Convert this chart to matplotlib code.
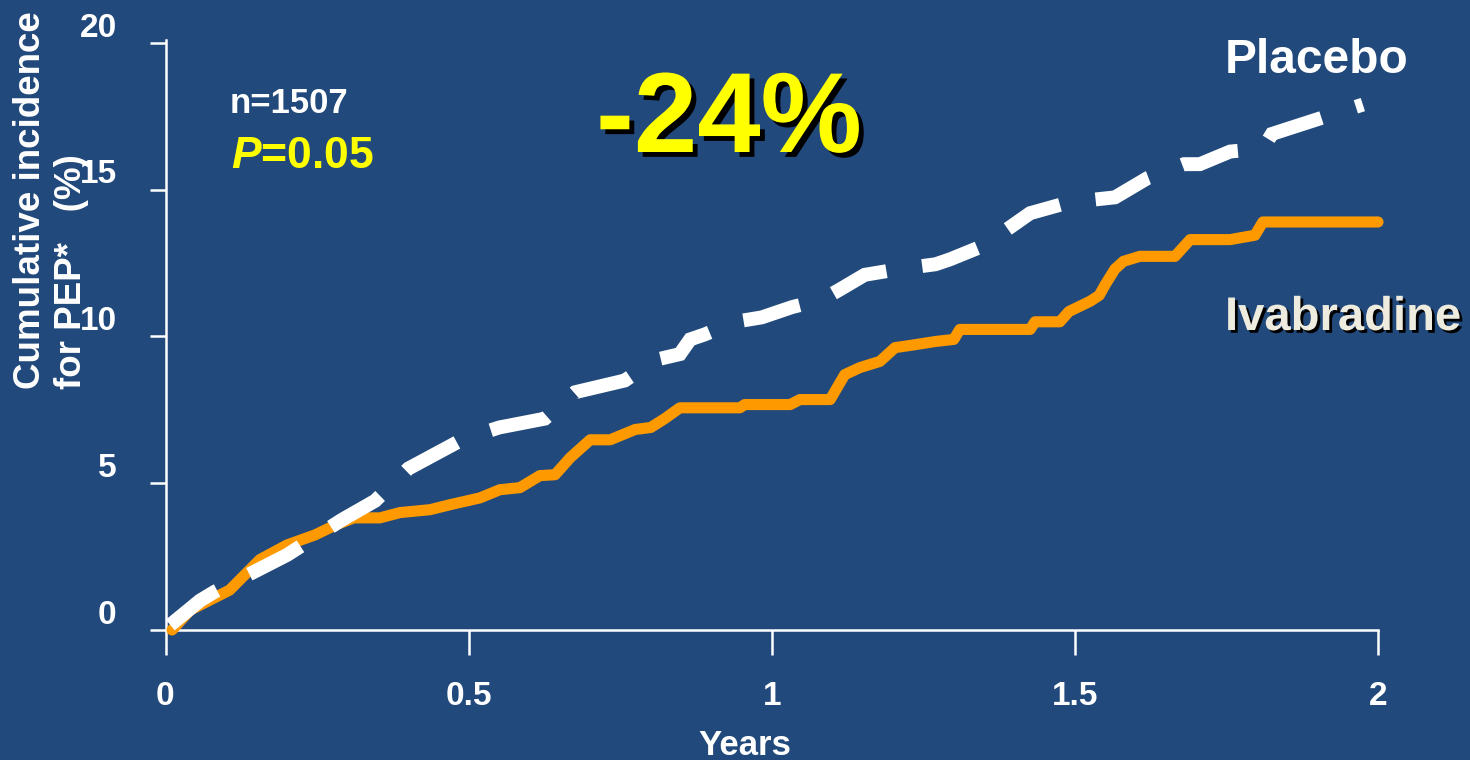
import matplotlib
matplotlib.use("Agg")
import matplotlib.pyplot as plt
from matplotlib import patheffects

plt.rcParams["font.family"] = ["Liberation Sans", "DejaVu Sans"]
plt.rcParams["font.weight"] = "bold"
plt.rcParams["mathtext.fontset"] = "custom"
plt.rcParams["mathtext.it"] = "Liberation Sans:italic:bold"
plt.rcParams["mathtext.rm"] = "Liberation Sans:bold"

# Kaplan-Meier style cumulative incidence (%) over follow-up (years)
ivab_years = [0.01, 0.04, 0.105, 0.155, 0.20, 0.246, 0.28, 0.31, 0.353, 0.386,
              0.436, 0.469, 0.518, 0.551, 0.584, 0.617, 0.642, 0.667, 0.70,
              0.733, 0.774, 0.80, 0.823, 0.848, 0.947, 0.955, 1.03, 1.046,
              1.096, 1.12, 1.145, 1.178, 1.203, 1.23, 1.27, 1.30, 1.31, 1.426,
              1.434, 1.475, 1.49, 1.525, 1.54, 1.55, 1.566, 1.58, 1.607, 1.665,
              1.69, 1.756, 1.797, 1.81, 2.0]
ivab_inc = [0.0, 0.68, 1.36, 2.4, 2.9, 3.24, 3.58, 3.82, 3.82, 4.0,
            4.1, 4.27, 4.5, 4.78, 4.85, 5.26, 5.29, 5.87, 6.48,
            6.48, 6.83, 6.9, 7.2, 7.57, 7.57, 7.68, 7.68, 7.85,
            7.85, 8.7, 8.94, 9.15, 9.62, 9.7, 9.83, 9.9, 10.24, 10.24,
            10.5, 10.5, 10.85, 11.2, 11.4, 11.77, 12.3, 12.56, 12.73, 12.73,
            13.3, 13.3, 13.45, 13.9, 13.9]

plac_years = [0.007, 0.056, 0.08, 0.147, 0.20, 0.29, 0.345, 0.40, 0.49,
              0.55, 0.625, 0.675, 0.757, 0.807, 0.848, 0.865, 0.889, 0.939,
              0.983, 1.033, 1.083, 1.112, 1.153, 1.211, 1.27, 1.294, 1.35,
              1.426, 1.49, 1.566, 1.62, 1.68, 1.706, 1.756, 1.81, 1.825,
              1.885, 1.975]
plac_inc = [0.17, 1.0, 1.3, 2.0, 2.56, 3.75, 4.4, 5.5, 6.5,
            6.9, 7.2, 8.1, 8.5, 9.2, 9.4, 9.9, 10.07, 10.5,
            10.65, 11.0, 11.26, 11.6, 12.1, 12.3, 12.46, 12.63, 13.1,
            14.2, 14.57, 14.74, 15.4, 15.87, 15.87, 16.3, 16.4, 16.9,
            17.3, 17.9]

x_ticks = [0, 0.5, 1, 1.5, 2]
x_tick_labels = ["0", "0.5", "1", "1.5", "2"]
y_ticks = [0, 5, 10, 15, 20]
y_tick_labels = ["0", "5", "10", "15", "20"]

BG = "#21497B"
ORANGE = "#FF9900"
YELLOW = "#FFFF00"
WHITE = "#FFFFFF"

fig = plt.figure(figsize=(14.7, 7.6), dpi=100, facecolor=BG)
ax = fig.add_axes([166 / 1470, 130 / 760, 1212 / 1470, 590 / 760])
ax.set_facecolor(BG)
ax.set_xlim(0, 2)
ax.set_ylim(0, 20.1)

for side in ("top", "right"):
    ax.spines[side].set_visible(False)
for side in ("left", "bottom"):
    ax.spines[side].set_color(WHITE)
    ax.spines[side].set_linewidth(1.8)

ax.set_xticks(x_ticks)
ax.set_yticks(y_ticks)
ax.tick_params(axis="x", direction="out", length=18, width=1.8, color=WHITE,
               labelbottom=False)
ax.tick_params(axis="y", direction="out", length=11.5, width=1.8, color=WHITE,
               labelleft=False)

# tick labels
for v, s in zip(y_ticks, y_tick_labels):
    ax.annotate(s, xy=(0, v), xycoords=("axes fraction", "data"),
                xytext=(-35.5, 4.5), textcoords="offset points",
                ha="right", va="baseline", fontsize=24, color=WHITE,
                fontweight="bold", annotation_clip=False)
for v, s in zip(x_ticks, x_tick_labels):
    ax.annotate(s, xy=(v, 0), xycoords=("data", "axes fraction"),
                xytext=(-1 if v == 0 else 0, -54), textcoords="offset points",
                ha="center", va="baseline", fontsize=24, color=WHITE,
                fontweight="bold", annotation_clip=False)

# curves
ax.plot(ivab_years, ivab_inc, color=ORANGE, lw=8, solid_capstyle="round",
        solid_joinstyle="round", zorder=3, clip_on=False)
ax.plot(plac_years, plac_inc, color=WHITE, lw=10, linestyle=(0, (4.2, 2.6)),
        dash_capstyle="butt", dash_joinstyle="miter", zorder=4, clip_on=False)

# axis titles
fig.text(51 / 1470, 1 - 200 / 760, "Cumulative incidence\nfor PEP*   (%)",
         rotation=90, ha="center", va="center", multialignment="left",
         fontsize=26.5, color=WHITE, fontweight="bold", linespacing=1.25)
fig.text(745 / 1470, 5 / 760, "Years", ha="center", va="baseline",
         fontsize=25, color=WHITE, fontweight="bold")

# annotations
fig.text(230 / 1470, 1 - 113 / 760, "n=1507", ha="left", va="baseline",
         fontsize=25, color=WHITE, fontweight="bold")
fig.text(231 / 1470, 1 - 168 / 760, "$P$=0.05", ha="left", va="baseline",
         fontsize=32, color=YELLOW, fontweight="bold")
fig.text(596 / 1470, 1 - 152 / 760, "-24%", ha="left", va="baseline",
         fontsize=82, color=YELLOW, fontweight="bold",
         path_effects=[patheffects.withSimplePatchShadow(
             offset=(3.5, -3.5), shadow_rgbFace="black", alpha=1.0)])
fig.text(1225 / 1470, 1 - 73 / 760, "Placebo", ha="left", va="baseline",
         fontsize=34.5, color=WHITE, fontweight="bold")
fig.text(1225 / 1470, 1 - 330 / 760, "Ivabradine", ha="left", va="baseline",
         fontsize=34, color="#EEEBDF", fontweight="bold",
         path_effects=[patheffects.withSimplePatchShadow(
             offset=(2, -2), shadow_rgbFace="black", alpha=1.0)])

fig.savefig("out.png", dpi=100, facecolor=BG)
